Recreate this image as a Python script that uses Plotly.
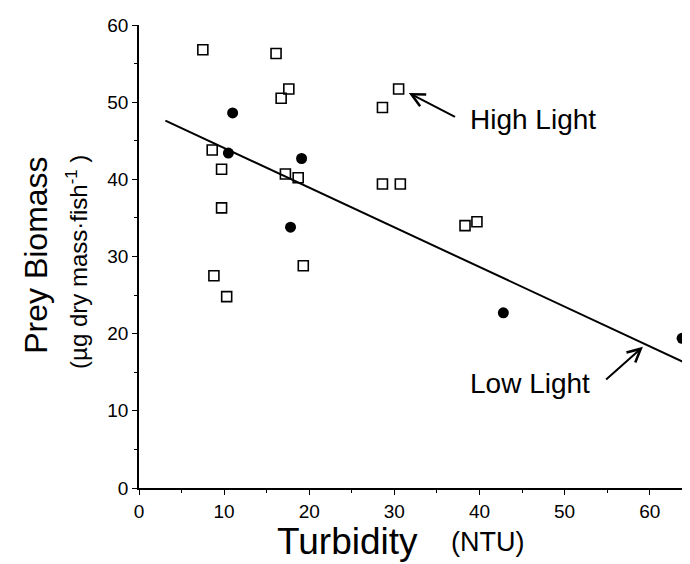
import plotly.graph_objects as go

# High Light (open squares)
high_x = [7.5, 16.1, 17.6, 16.7, 8.6, 9.7, 9.7, 8.8, 10.3, 17.2, 18.7, 19.3, 28.6, 30.5, 28.6, 30.7, 38.3, 39.7]
high_y = [56.8, 56.3, 51.7, 50.5, 43.8, 41.3, 36.3, 27.5, 24.8, 40.7, 40.2, 28.8, 49.3, 51.7, 39.4, 39.4, 34.0, 34.5]

# Low Light (filled circles)
low_x = [11.0, 10.5, 19.1, 17.8, 42.8, 63.8]
low_y = [48.6, 43.4, 42.7, 33.8, 22.7, 19.4]

# Regression line end points
trend_x = [3.1, 64.8]
trend_y = [47.6, 15.9]

x_ticks = [0, 10, 20, 30, 40, 50, 60]
y_ticks = [0, 10, 20, 30, 40, 50, 60]

FONT = "Liberation Sans, Arial, Helvetica, sans-serif"

fig = go.Figure()
fig.add_trace(go.Scatter(x=trend_x, y=trend_y, mode="lines",
                         line=dict(color="black", width=2), hoverinfo="skip"))
fig.add_trace(go.Scatter(x=high_x, y=high_y, mode="markers", name="High Light",
                         marker=dict(symbol="square-open", size=10, color="black",
                                     line=dict(width=1.6, color="black"))))
fig.add_trace(go.Scatter(x=low_x, y=low_y, mode="markers", name="Low Light",
                         marker=dict(symbol="circle", size=11, color="black")))

fig.update_layout(
    width=690, height=564,
    margin=dict(l=131, r=4, t=17, b=84),
    paper_bgcolor="white", plot_bgcolor="white",
    showlegend=False,
    font=dict(family=FONT, color="black", size=19),
)
fig.update_xaxes(range=[0, 65.2], tickvals=x_ticks, ticks="outside", ticklen=5,
                 tickwidth=1.4, tickcolor="black", showline=True, linecolor="black",
                 linewidth=1.6, showgrid=False, zeroline=False,
                 tickfont=dict(size=19, family=FONT),
                 minor=dict(dtick=5, ticks="outside", ticklen=3, tickcolor="black", tickwidth=1.2))
fig.update_yaxes(range=[0, 60], tickvals=y_ticks, ticks="outside", ticklen=5,
                 tickwidth=1.4, tickcolor="black", showline=True, linecolor="black",
                 linewidth=1.6, showgrid=False, zeroline=False,
                 tickfont=dict(size=19, family=FONT),
                 minor=dict(dtick=5, ticks="outside", ticklen=3, tickcolor="black", tickwidth=1.2))

# Axis titles as annotations
fig.add_annotation(text="Prey Biomass", xref="paper", yref="paper", x=-0.187, y=0.502,
                   textangle=-90, showarrow=False, font=dict(size=32, family=FONT),
                   xanchor="center", yanchor="middle")
fig.add_annotation(text="(µg dry mass·fish<sup>-1</sup> )", xref="paper", yref="paper",
                   x=-0.113, y=0.489, textangle=-90, showarrow=False,
                   font=dict(size=24, family=FONT), xanchor="center", yanchor="middle")
fig.add_annotation(text="Turbidity", xref="paper", yref="paper", x=0.376, y=-0.069,
                   showarrow=False, font=dict(size=37, family=FONT),
                   xanchor="center", yanchor="top", borderpad=0)
fig.add_annotation(text="(NTU)", xref="paper", yref="paper", x=0.561, y=-0.082,
                   showarrow=False, font=dict(size=27, family=FONT),
                   xanchor="left", yanchor="top", borderpad=0)

# Arrows and labels
fig.add_annotation(x=31.7, y=51.2, ax=37.3, ay=48.0, xref="x", yref="y",
                   axref="x", ayref="y", text="", showarrow=True,
                   arrowhead=5, arrowsize=1.3, arrowwidth=2, arrowcolor="black")
fig.add_annotation(text="High Light", x=38.7, y=47.8, xref="x", yref="y",
                   showarrow=False, xanchor="left", yanchor="middle",
                   font=dict(size=28, family=FONT))
fig.add_annotation(x=59.2, y=18.3, ax=54.7, ay=13.9, xref="x", yref="y",
                   axref="x", ayref="y", text="", showarrow=True,
                   arrowhead=5, arrowsize=1.3, arrowwidth=2, arrowcolor="black")
fig.add_annotation(text="Low Light", x=38.7, y=13.5, xref="x", yref="y",
                   showarrow=False, xanchor="left", yanchor="middle",
                   font=dict(size=28, family=FONT))

fig.write_html("out.html")
